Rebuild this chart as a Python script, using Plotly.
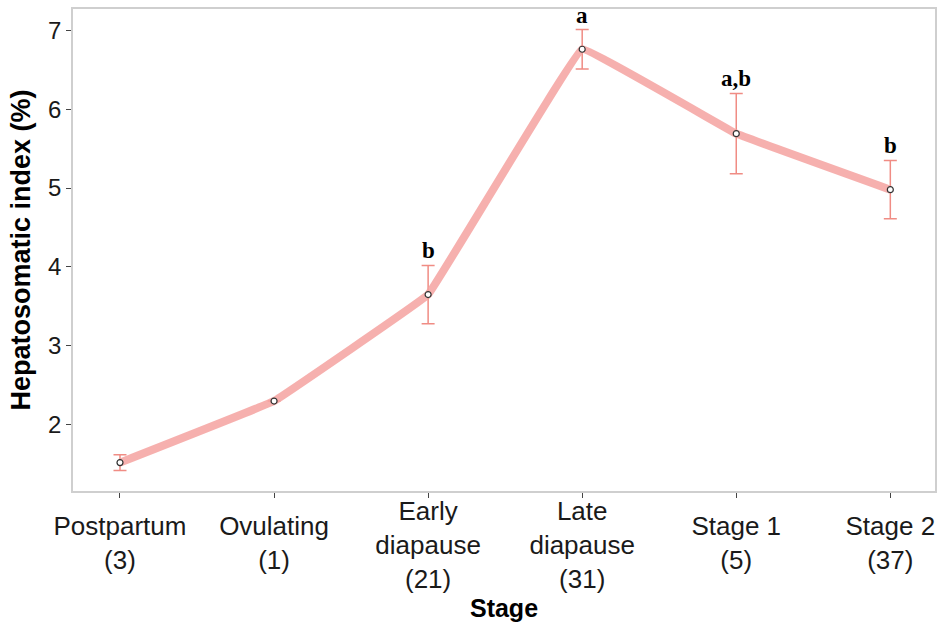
import plotly.graph_objects as go

stages = ["Postpartum", "Ovulating", "Early<br>diapause", "Late<br>diapause", "Stage 1", "Stage 2"]
counts = [3, 1, 21, 31, 5, 37]
hsi_mean = [1.52, 2.30, 3.65, 6.76, 5.69, 4.98]
hsi_err = [0.10, None, 0.37, 0.25, 0.51, 0.37]
letters = ["", "", "b", "a", "a,b", "b"]
y_ticks = [2, 3, 4, 5, 6, 7]

x_pos = list(range(len(stages)))
labels = [f"{s}<br>({n})" for s, n in zip(stages, counts)]
# three-line labels on the main axis, two-line labels on an overlay axis
# so both groups are vertically centred like the reference
three_line = [lab if lab.count("<br>") == 2 else "" for lab in labels]
two_line = [lab if lab.count("<br>") == 1 else "" for lab in labels]

err_vals = [e if e is not None else float("nan") for e in hsi_err]
x_range = [-0.305, 5.29]

fig = go.Figure()
fig.add_trace(go.Scatter(
    x=x_pos, y=hsi_mean, mode="lines",
    line=dict(color="rgba(244,162,160,0.85)", width=8, shape="spline", smoothing=0.12),
    error_y=dict(type="data", array=err_vals, visible=True,
                 color="#F08C84", thickness=1.5, width=6.5),
    showlegend=False, hoverinfo="skip",
))
fig.add_trace(go.Scatter(
    x=x_pos, y=hsi_mean, mode="markers", xaxis="x2",
    marker=dict(size=6, color="white", line=dict(color="#333333", width=1.2)),
    showlegend=False,
))

for x, y, e, t in zip(x_pos, hsi_mean, hsi_err, letters):
    if t:
        fig.add_annotation(
            x=x, y=y + (e or 0), text=f"<b>{t}</b>", showarrow=False,
            yanchor="bottom", yshift=0,
            font=dict(family="Liberation Serif", size=23, color="black"),
        )

axis_common = dict(
    showline=True, linecolor="#CFCFCF", linewidth=1.5, mirror=True,
    showgrid=False, zeroline=False, automargin=False,
    ticks="outside", tickcolor="#444444", ticklen=5, tickwidth=1,
)
tick_font = dict(size=26, family="Liberation Sans", color="#1a1a1a")

fig.update_layout(
    width=937, height=628,
    margin=dict(l=73, r=2, t=9, b=137),
    paper_bgcolor="white", plot_bgcolor="white",
    font=dict(family="Liberation Sans", color="#1a1a1a"),
    xaxis=dict(
        **axis_common,
        tickvals=x_pos, ticktext=three_line,
        range=x_range,
        ticklabelstandoff=-9,
        tickfont=tick_font,
        title=dict(text="<b>Stage</b>", font=dict(size=25, color="black"), standoff=0),
    ),
    xaxis2=dict(
        overlaying="x", anchor="y", side="bottom", matches="x",
        range=x_range, automargin=False,
        showline=False, showgrid=False, zeroline=False, ticks="",
        tickvals=x_pos, ticktext=two_line,
        ticklabelstandoff=17,
        tickfont=tick_font,
    ),
    yaxis=dict(
        **axis_common,
        tickvals=y_ticks,
        range=[1.16, 7.27],
        tickfont=dict(size=24, family="Liberation Sans", color="#1a1a1a"),
        title=dict(text="<b>Hepatosomatic index (%)</b>", font=dict(size=27, color="black"), standoff=10),
    ),
)

fig.write_html("out.html", config={"displayModeBar": False},
               post_script="document.body.style.margin='0px';")
